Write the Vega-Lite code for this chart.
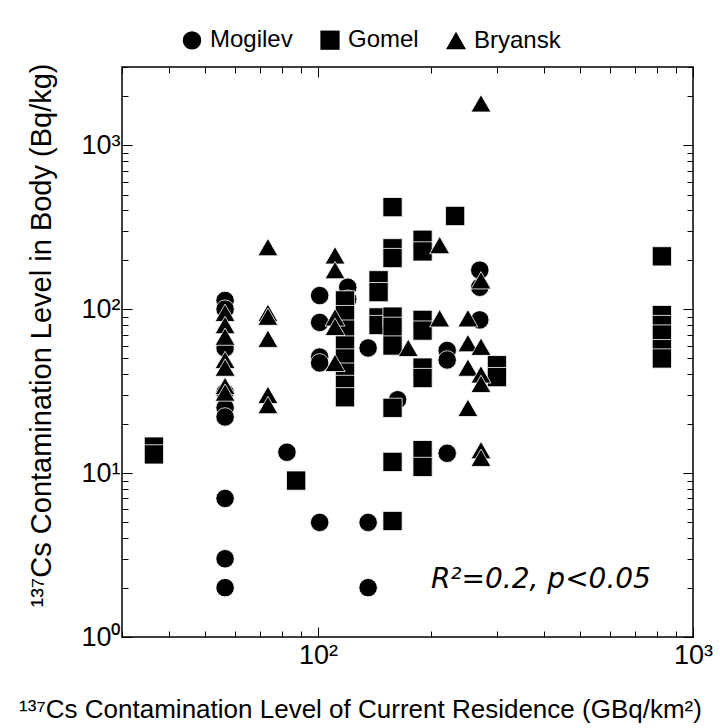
{
  "$schema": "https://vega.github.io/schema/vega-lite/v6.json",
  "width": 571,
  "height": 570,
  "autosize": {"type": "none"},
  "padding": {"left": 122, "top": 67, "right": 27, "bottom": 91},
  "background": "white",
  "config": {
    "view": {"stroke": "black", "strokeWidth": 1.5},
    "font": "Liberation Sans"
  },
  "datasets": {
    "points": [
      {"region": "Mogilev", "x": 56.5, "y": 113},
      {"region": "Mogilev", "x": 56.5, "y": 100},
      {"region": "Mogilev", "x": 56.5, "y": 58},
      {"region": "Mogilev", "x": 56.5, "y": 31},
      {"region": "Mogilev", "x": 56.5, "y": 25},
      {"region": "Mogilev", "x": 56.5, "y": 22},
      {"region": "Mogilev", "x": 56.5, "y": 7},
      {"region": "Mogilev", "x": 56.5, "y": 3},
      {"region": "Mogilev", "x": 56.5, "y": 2},
      {"region": "Mogilev", "x": 82.6, "y": 13.4},
      {"region": "Mogilev", "x": 101, "y": 121},
      {"region": "Mogilev", "x": 101, "y": 83},
      {"region": "Mogilev", "x": 101, "y": 51},
      {"region": "Mogilev", "x": 101, "y": 47},
      {"region": "Mogilev", "x": 101, "y": 5},
      {"region": "Mogilev", "x": 120, "y": 136},
      {"region": "Mogilev", "x": 120, "y": 115},
      {"region": "Mogilev", "x": 136, "y": 58},
      {"region": "Mogilev", "x": 136, "y": 5},
      {"region": "Mogilev", "x": 136, "y": 2},
      {"region": "Mogilev", "x": 163, "y": 28},
      {"region": "Mogilev", "x": 221, "y": 56},
      {"region": "Mogilev", "x": 221, "y": 49},
      {"region": "Mogilev", "x": 221, "y": 13.2},
      {"region": "Mogilev", "x": 270, "y": 173},
      {"region": "Mogilev", "x": 270, "y": 136},
      {"region": "Mogilev", "x": 270, "y": 86},
      {"region": "Gomel", "x": 36.5, "y": 14.5},
      {"region": "Gomel", "x": 36.5, "y": 13},
      {"region": "Gomel", "x": 87.4, "y": 9},
      {"region": "Gomel", "x": 118, "y": 113},
      {"region": "Gomel", "x": 118, "y": 92},
      {"region": "Gomel", "x": 118, "y": 75},
      {"region": "Gomel", "x": 118, "y": 60},
      {"region": "Gomel", "x": 118, "y": 50},
      {"region": "Gomel", "x": 118, "y": 41},
      {"region": "Gomel", "x": 118, "y": 34.5},
      {"region": "Gomel", "x": 118, "y": 29},
      {"region": "Gomel", "x": 145, "y": 150},
      {"region": "Gomel", "x": 145, "y": 127},
      {"region": "Gomel", "x": 145, "y": 89},
      {"region": "Gomel", "x": 145, "y": 80},
      {"region": "Gomel", "x": 158, "y": 419},
      {"region": "Gomel", "x": 158, "y": 235},
      {"region": "Gomel", "x": 158, "y": 205},
      {"region": "Gomel", "x": 158, "y": 90},
      {"region": "Gomel", "x": 158, "y": 78},
      {"region": "Gomel", "x": 158, "y": 60},
      {"region": "Gomel", "x": 158, "y": 25},
      {"region": "Gomel", "x": 158, "y": 11.7},
      {"region": "Gomel", "x": 158, "y": 5.1},
      {"region": "Gomel", "x": 190, "y": 265},
      {"region": "Gomel", "x": 190, "y": 225},
      {"region": "Gomel", "x": 190, "y": 86},
      {"region": "Gomel", "x": 190, "y": 74},
      {"region": "Gomel", "x": 190, "y": 44},
      {"region": "Gomel", "x": 190, "y": 38},
      {"region": "Gomel", "x": 190, "y": 13.8},
      {"region": "Gomel", "x": 190, "y": 10.9},
      {"region": "Gomel", "x": 232, "y": 370},
      {"region": "Gomel", "x": 300, "y": 45.5},
      {"region": "Gomel", "x": 300, "y": 38.5},
      {"region": "Gomel", "x": 826, "y": 210},
      {"region": "Gomel", "x": 826, "y": 92},
      {"region": "Gomel", "x": 826, "y": 80},
      {"region": "Gomel", "x": 826, "y": 70},
      {"region": "Gomel", "x": 826, "y": 57},
      {"region": "Gomel", "x": 826, "y": 50},
      {"region": "Bryansk", "x": 56.5, "y": 95},
      {"region": "Bryansk", "x": 56.5, "y": 80},
      {"region": "Bryansk", "x": 56.5, "y": 68},
      {"region": "Bryansk", "x": 56.5, "y": 49},
      {"region": "Bryansk", "x": 56.5, "y": 44},
      {"region": "Bryansk", "x": 56.5, "y": 34},
      {"region": "Bryansk", "x": 56.5, "y": 31},
      {"region": "Bryansk", "x": 73.5, "y": 239},
      {"region": "Bryansk", "x": 73.5, "y": 95},
      {"region": "Bryansk", "x": 73.5, "y": 90},
      {"region": "Bryansk", "x": 73.5, "y": 66},
      {"region": "Bryansk", "x": 73.5, "y": 30},
      {"region": "Bryansk", "x": 73.5, "y": 26},
      {"region": "Bryansk", "x": 111, "y": 213},
      {"region": "Bryansk", "x": 111, "y": 173},
      {"region": "Bryansk", "x": 111, "y": 89},
      {"region": "Bryansk", "x": 111, "y": 78},
      {"region": "Bryansk", "x": 111, "y": 47},
      {"region": "Bryansk", "x": 174, "y": 58},
      {"region": "Bryansk", "x": 211, "y": 246},
      {"region": "Bryansk", "x": 211, "y": 88},
      {"region": "Bryansk", "x": 251, "y": 88},
      {"region": "Bryansk", "x": 251, "y": 62},
      {"region": "Bryansk", "x": 251, "y": 44},
      {"region": "Bryansk", "x": 251, "y": 25},
      {"region": "Bryansk", "x": 272, "y": 1800},
      {"region": "Bryansk", "x": 272, "y": 150},
      {"region": "Bryansk", "x": 272, "y": 59},
      {"region": "Bryansk", "x": 272, "y": 40},
      {"region": "Bryansk", "x": 272, "y": 35},
      {"region": "Bryansk", "x": 272, "y": 13.8},
      {"region": "Bryansk", "x": 272, "y": 12.4}
    ],
    "note": [{"x": 393, "y": 2.23, "label": "R²=0.2, p<0.05"}]
  },
  "layer": [
    {
      "data": {"name": "points"},
      "mark": {"type": "point", "filled": true, "opacity": 1, "stroke": "white", "strokeWidth": 0.8},
      "encoding": {
        "x": {
          "field": "x", "type": "quantitative",
          "scale": {"type": "log", "domain": [30, 1000], "nice": false},
          "axis": {
            "orient": "bottom",
            "values": [30, 40, 50, 60, 70, 80, 90, 100, 200, 300, 400, 500, 600, 700, 800, 900, 1000],
            "labelExpr": "datum.value == 100 ? '10²' : datum.value == 1000 ? '10³' : ''",
            "tickSize": {"condition": {"test": "datum.value == 100 || datum.value == 1000", "value": -10}, "value": -6},
            "tickColor": "black",
            "domain": false, "grid": false,
            "labelFontSize": 27, "labelColor": "black", "labelPadding": 15,
            "labelFlush": false, "labelOverlap": false, "labelBound": false,
            "title": "¹³⁷Cs Contamination Level of Current Residence (GBq/km²)",
            "titleFontSize": 26, "titleFontWeight": "normal", "titleColor": "black", "titlePadding": 24,
            "titleX": 238, "titleAlign": "center", "titleAnchor": null
          }
        },
        "y": {
          "field": "y", "type": "quantitative",
          "scale": {"type": "log", "domain": [1, 3000], "nice": false},
          "axis": {
            "orient": "left",
            "values": [1, 2, 3, 4, 5, 6, 7, 8, 9, 10, 20, 30, 40, 50, 60, 70, 80, 90, 100, 200, 300, 400, 500, 600, 700, 800, 900, 1000, 2000, 3000],
            "labelExpr": "datum.value == 1 ? '10⁰' : datum.value == 10 ? '10¹' : datum.value == 100 ? '10²' : datum.value == 1000 ? '10³' : ''",
            "tickSize": {"condition": {"test": "datum.value == 1 || datum.value == 10 || datum.value == 100 || datum.value == 1000", "value": -10}, "value": -6},
            "tickColor": "black",
            "domain": false, "grid": false,
            "labelFontSize": 27, "labelColor": "black", "labelPadding": 12,
            "labelFlush": false, "labelOverlap": false, "labelBound": false,
            "title": "¹³⁷Cs Contamination Level in Body (Bq/kg)",
            "titleFontSize": 29, "titleFontWeight": "normal", "titleColor": "black", "titlePadding": 24,
            "titleY": 268, "titleAlign": "center", "titleAnchor": null
          }
        },
        "shape": {
          "field": "region", "type": "nominal",
          "scale": {"domain": ["Mogilev", "Gomel", "Bryansk"], "range": ["circle", "square", "triangle-up"]},
          "legend": {
            "orient": "none", "legendX": 58, "legendY": -39, "direction": "horizontal",
            "title": null, "labelFontSize": 24, "labelColor": "black", "labelOffset": 6,
            "symbolFillColor": "black", "symbolStrokeColor": "black",
            "columnPadding": 24
          }
        },
        "size": {
          "field": "region", "type": "nominal",
          "scale": {"domain": ["Mogilev", "Gomel", "Bryansk"], "range": [340, 400, 490]},
          "legend": {
            "orient": "none", "legendX": 58, "legendY": -39, "direction": "horizontal",
            "title": null, "labelFontSize": 24, "labelColor": "black", "labelOffset": 6,
            "symbolFillColor": "black", "symbolStrokeColor": "black",
            "columnPadding": 24
          }
        },
        "color": {"value": "black"}
      }
    },
    {
      "data": {"name": "note"},
      "mark": {"type": "text", "font": "DejaVu Sans", "fontStyle": "italic", "fontSize": 28, "align": "center", "baseline": "middle", "color": "black"},
      "encoding": {
        "x": {
          "field": "x", "type": "quantitative",
          "axis": {
            "orient": "top",
            "values": [30, 40, 50, 60, 70, 80, 90, 100, 200, 300, 400, 500, 600, 700, 800, 900, 1000],
            "labels": false, "title": null, "domain": false, "grid": false, "tickColor": "black",
            "tickSize": {"condition": {"test": "datum.value == 100 || datum.value == 1000", "value": -10}, "value": -6}
          }
        },
        "y": {
          "field": "y", "type": "quantitative",
          "axis": {
            "orient": "right",
            "values": [1, 2, 3, 4, 5, 6, 7, 8, 9, 10, 20, 30, 40, 50, 60, 70, 80, 90, 100, 200, 300, 400, 500, 600, 700, 800, 900, 1000, 2000, 3000],
            "labels": false, "title": null, "domain": false, "grid": false, "tickColor": "black",
            "tickSize": {"condition": {"test": "datum.value == 1 || datum.value == 10 || datum.value == 100 || datum.value == 1000", "value": -10}, "value": -6}
          }
        },
        "text": {"field": "label"}
      }
    }
  ],
  "resolve": {"axis": {"x": "independent", "y": "independent"}}
}
